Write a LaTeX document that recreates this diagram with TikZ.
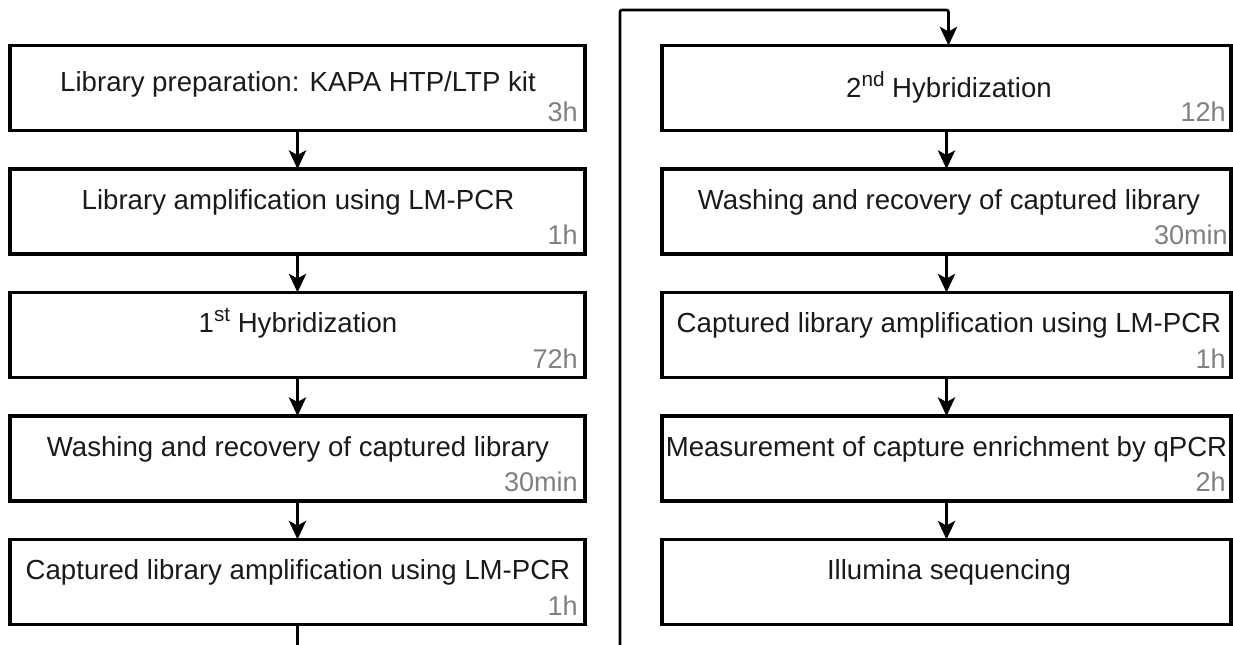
\documentclass[tikz,border=0pt]{standalone}
\usepackage{fontspec}
\setmainfont{Liberation Sans}
\usetikzlibrary{arrows.meta,calc}
\definecolor{txt}{HTML}{1A1A1A}
\definecolor{tgray}{HTML}{808080}
\newcommand{\supx}[1]{\raisebox{8.5pt}{\fontsize{15.5}{16}\selectfont #1}}
\begin{document}
\begin{tikzpicture}[x=0.75pt,y=-0.75pt,
  box/.style={draw=black,line width=2.3pt,minimum width=431.25pt,minimum height=63.75pt,inner sep=0pt,outer sep=0pt},
  rbox/.style={box,minimum width=426.75pt},
  lab/.style={anchor=base,font=\fontsize{20.7}{23}\selectfont,text=txt,inner sep=0pt},
  tim/.style={anchor=base east,font=\fontsize{20.3}{22}\selectfont,text=tgray,inner sep=0pt},
  arr/.style={draw=black,line width=1.7pt,-{Stealth[length=14pt,width=13pt,inset=3.5pt]}},
  conn/.style={draw=black,line width=2pt}
]
\useasboundingbox (0,0) rectangle (1233,645);
% left column
\node[box] (l1) at (297.5,88) {};
\node[box] (l2) at (297.5,211.5) {};
\node[box] (l3) at (297.5,335) {};
\node[box] (l4) at (297.5,458.5) {};
\node[box] (l5) at (297.5,582) {};
% right column
\node[rbox] (r1) at (946.5,88) {};
\node[rbox] (r2) at (946.5,211.5) {};
\node[rbox] (r3) at (946.5,335) {};
\node[rbox] (r4) at (946.5,458.5) {};
\node[rbox] (r5) at (946.5,582) {};
% texts
\node[lab] (tl1) at (298,92) {Library preparation: KAPA HTP/LTP kit};
\node[lab] (tl2) at (298,210) {Library amplification using LM-PCR};
\node[lab] (tl3) at (298,333) {1\supx{st} Hybridization};
\node[lab] (tl4) at (298,457) {Washing and recovery of captured library};
\node[lab] (tl5) at (298,580) {Captured library amplification using LM-PCR};
\node[lab] (tr1) at (949,98) {2\supx{nd} Hybridization};
\node[lab] (tr2) at (949,210) {Washing and recovery of captured library};
\node[lab] (tr3) at (949,333) {Captured library amplification using LM-PCR};
\node[lab] (tr4) at (946.5,457) {Measurement of capture enrichment by qPCR};
\node[lab] (tr5) at (949,580) {Illumina sequencing};
% times
\node[tim] (hl1) at ($(l1.south east)+(-7,-9)$) {3h};
\node[tim] (hl2) at ($(l2.south east)+(-7,-9)$) {1h};
\node[tim] (hl3) at ($(l3.south east)+(-7,-9)$) {72h};
\node[tim] (hl4) at ($(l4.south east)+(-7,-9)$) {30min};
\node[tim] (hl5) at ($(l5.south east)+(-7,-9)$) {1h};
\node[tim] (hr1) at ($(r1.south east)+(-5,-9)$) {12h};
\node[tim] (hr2) at ($(r2.south east)+(-3,-9)$) {30min};
\node[tim] (hr3) at ($(r3.south east)+(-5,-9)$) {1h};
\node[tim] (hr4) at ($(r4.south east)+(-5,-9)$) {2h};
% arrows
\draw[arr] (l1) -- (l2);
\draw[arr] (l2) -- (l3);
\draw[arr] (l3) -- (l4);
\draw[arr] (l4) -- (l5);
\draw[arr] (r1.south) -- (r2.north);
\draw[arr] (r2.south) -- (r3.north);
\draw[arr] (r3.south) -- (r4.north);
\draw[arr] (r4.south) -- (r5.north);
% connector from left to right column
\coordinate (cl) at (297.5,648);
\coordinate (cb) at (620,648);
\coordinate (ct) at (620,10);
\draw[conn] (l5.south) -- (cl);
\draw[arr,line width=2pt,rounded corners=1.5pt] (cb) -- (ct) -| ([xshift=1.5]r1.north);
\end{tikzpicture}
\end{document}
